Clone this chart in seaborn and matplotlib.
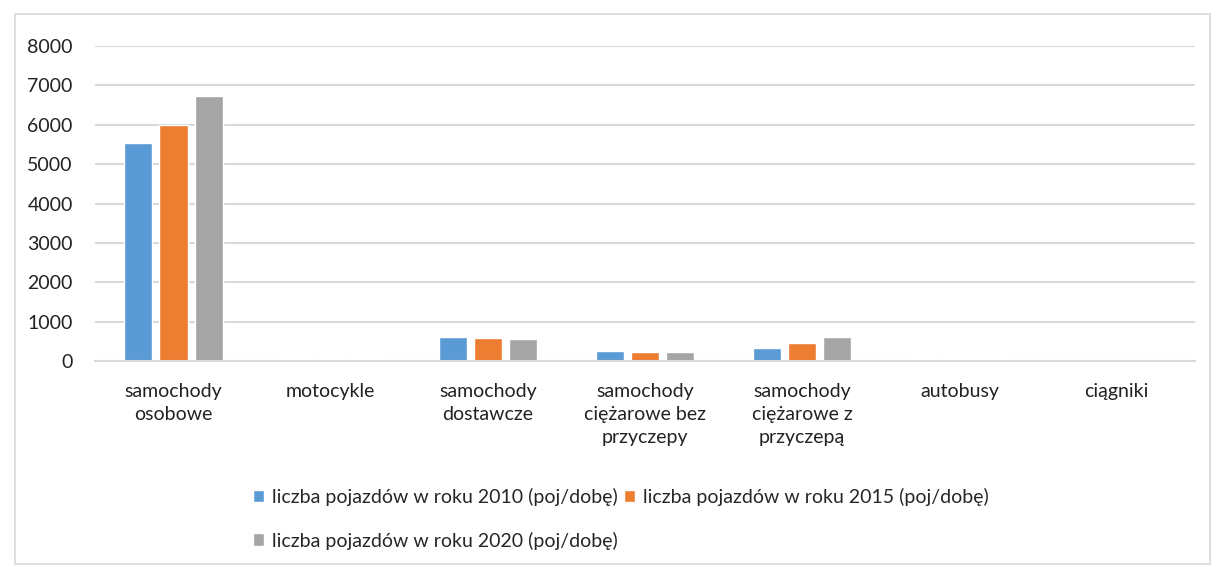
import matplotlib
matplotlib.use("Agg")
import matplotlib.pyplot as plt
import pandas as pd
import seaborn as sns
from matplotlib.patches import Rectangle

categories = ["samochody\nosobowe", "motocykle", "samochody\ndostawcze",
              "samochody\nciężarowe bez\nprzyczepy", "samochody\nciężarowe z\nprzyczepą",
              "autobusy", "ciągniki"]
series = ["liczba pojazdów w roku 2010 (poj/dobę)",
          "liczba pojazdów w roku 2015 (poj/dobę)",
          "liczba pojazdów w roku 2020 (poj/dobę)"]
v2010 = [5530, 50, 620, 260, 340, 50, 5]
v2015 = [6000, 60, 580, 230, 450, 55, 5]
v2020 = [6730, 50, 560, 230, 620, 55, 5]
colors = ["#5B9BD5", "#ED7D31", "#A5A5A5"]

rows = []
for s, vals in zip(series, [v2010, v2015, v2020]):
    for c, v in zip(categories, vals):
        rows.append({"kategoria": c, "seria": s, "wartosc": v})
df = pd.DataFrame(rows)

sns.set_style("white")
plt.rcParams["font.family"] = ["Lato", "DejaVu Sans"]

fig = plt.figure(figsize=(12.17, 5.67), dpi=100)
ax = fig.add_axes([0.078, 0.363, 0.904, 0.556])

sns.barplot(data=df, x="kategoria", y="wartosc", hue="seria", order=categories,
            hue_order=series, palette=colors, width=0.67, gap=0.2,
            saturation=1, ax=ax, legend=True)

ax.set_ylim(0, 8000)
ax.set_yticks(range(0, 8001, 1000))
ax.yaxis.grid(True, color="#d9d9d9", linewidth=1.5)
ax.set_axisbelow(True)
for sp in ["top", "right", "left"]:
    ax.spines[sp].set_visible(False)
ax.spines["bottom"].set_color("#d9d9d9")
ax.spines["bottom"].set_linewidth(1.5)
ax.set_xlabel("")
ax.set_ylabel("")
ax.tick_params(axis="both", length=0, labelsize=14, colors="#222222")
ax.tick_params(axis="x", pad=16)
ax.tick_params(axis="y", pad=16)
for lbl in ax.get_xticklabels():
    lbl.set_linespacing(1.4)

handles, labels = ax.get_legend_handles_labels()
ax.get_legend().remove()
# row-wise order for a 2-column legend
order = [0, 2, 1]
fig.legend([handles[i] for i in order], [labels[i] for i in order], ncol=2,
           loc="upper center", bbox_to_anchor=(0.51, 0.17),
           frameon=False, fontsize=14, handlelength=0.6, handleheight=0.6,
           handletextpad=0.4, columnspacing=0.3, labelspacing=1.3)

fig.patches.append(Rectangle((0.012, 0.005), 0.982, 0.97, transform=fig.transFigure,
                             fill=False, edgecolor="#d9d9d9", linewidth=1.2))

fig.savefig("out.png", dpi=100)
